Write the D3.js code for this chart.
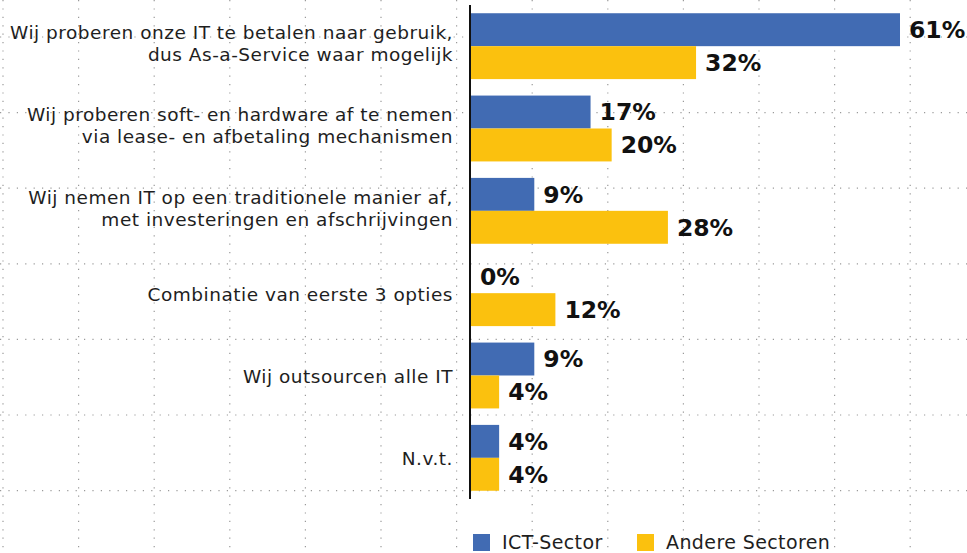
<!DOCTYPE html>
<html>
<head>
<meta charset="utf-8">
<script src="https://cdn.jsdelivr.net/npm/d3@7"></script>
<style>
  html, body { margin: 0; padding: 0; background: #fff; }
  svg { display: block; }
</style>
</head>
<body>
<div id="chart"></div>
<script>
// categories (line breaks as in the source slide)
const categories = [
  "Wij proberen onze IT te betalen naar gebruik,\ndus As-a-Service waar mogelijk",
  "Wij proberen soft- en hardware af te nemen\nvia lease- en afbetaling mechanismen",
  "Wij nemen IT op een traditionele manier af,\nmet investeringen en afschrijvingen",
  "Combinatie van eerste 3 opties",
  "Wij outsourcen alle IT",
  "N.v.t."
];
const seriesNames = ["ICT-Sector", "Andere Sectoren"];
const ictValues    = [61, 17, 9, 0, 9, 4];
const andereValues = [32, 20, 28, 12, 4, 4];

const COLORS = ["#416bb3", "#fbc10e"];

const W = 967, H = 553;
const FONT = "'DejaVu Sans', sans-serif";

const svg = d3.select("#chart").append("svg")
  .attr("width", W).attr("height", H);

// background dotted grid (slide template)
const gridStep = 75.6;
const grid = svg.append("g").attr("class", "grid")
  .attr("stroke", "#9a9a9a").attr("stroke-width", 1.2)
  .attr("stroke-dasharray", "1.2,7.2");
d3.range(3, W, gridStep).forEach(x => {
  grid.append("line").attr("x1", x).attr("x2", x).attr("y1", 0).attr("y2", H);
});
d3.range(37 - gridStep, H, gridStep).forEach(y => {
  grid.append("line").attr("x1", 0).attr("x2", W).attr("y1", y).attr("y2", y);
});

// scales
const x = d3.scaleLinear().domain([0, 61]).range([471, 900]);
const y0 = d3.scaleBand().domain(categories).range([5, 499])
  .paddingInner(0.2).paddingOuter(0.1);
const y1 = d3.scaleBand().domain(seriesNames).range([0, y0.bandwidth()]);

const rows = categories.map((c, i) => ({
  cat: c,
  vals: [ictValues[i], andereValues[i]]
}));

const g = svg.append("g");

const groups = g.selectAll("g.cat").data(rows).join("g")
  .attr("class", "cat")
  .attr("transform", d => `translate(0,${y0(d.cat)})`);

groups.selectAll("rect").data(d => d.vals.map((v, k) => ({ v, k }))).join("rect")
  .attr("x", x(0))
  .attr("y", d => y1(seriesNames[d.k]))
  .attr("width", d => x(d.v) - x(0))
  .attr("height", y1.bandwidth())
  .attr("fill", d => COLORS[d.k]);

groups.selectAll("text.val").data(d => d.vals.map((v, k) => ({ v, k }))).join("text")
  .attr("class", "val")
  .attr("x", d => x(d.v) + 9)
  .attr("y", d => y1(seriesNames[d.k]) + y1.bandwidth() / 2)
  .attr("dy", "0.36em")
  .attr("font-family", FONT)
  .attr("font-weight", "bold")
  .attr("font-size", 23.5)
  .attr("fill", "#111")
  .text(d => d.v + "%");

// category labels, right aligned left of the axis
groups.each(function(d) {
  const lines = d.cat.split("\n");
  const mid = y0.bandwidth() / 2;
  const t = d3.select(this).append("text")
    .attr("text-anchor", "end")
    .attr("font-family", FONT)
    .attr("font-size", 18.5)
    .attr("letter-spacing", 0.5)
    .attr("fill", "#1e1e1e");
  lines.forEach((ln, i) => {
    t.append("tspan")
      .attr("x", 453)
      .attr("y", lines.length > 1 ? mid - 7.3 + i * 22 : mid + 7.5)
      .text(ln);
  });
});

// axis line
svg.append("line")
  .attr("x1", 470).attr("x2", 470)
  .attr("y1", y0.range()[0]).attr("y2", y0.range()[1])
  .attr("stroke", "#111").attr("stroke-width", 2);

// legend
const legend = svg.append("g").attr("class", "legend");
const legX = [473, 637];
seriesNames.forEach((s, k) => {
  legend.append("rect")
    .attr("x", legX[k]).attr("y", 534)
    .attr("width", 17).attr("height", 17)
    .attr("fill", COLORS[k]);
  legend.append("text")
    .attr("x", legX[k] + 29).attr("y", 549)
    .attr("font-family", FONT)
    .attr("font-size", 19)
    .attr("letter-spacing", 0.4)
    .attr("fill", "#1e1e1e")
    .text(s);
});
</script>
</body>
</html>
